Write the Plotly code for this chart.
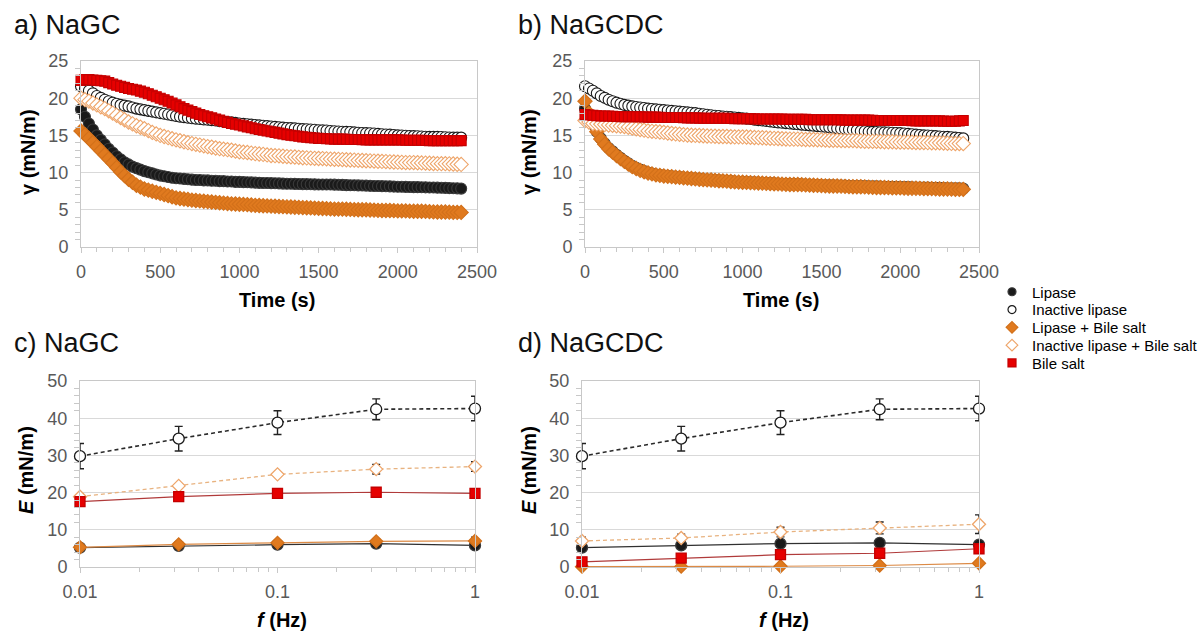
import plotly.graph_objects as go

# ---------------- data ----------------
TIME = list(range(0, 2401, 25))  # s

# Panel a) NaGC – surface tension (mN/m), one reading every 25 s
a_lipase = [18.5, 17.5, 16.6, 15.8, 15.0, 14.4, 13.8, 13.2, 12.7, 12.2, 11.8, 11.4, 11.1, 10.8, 10.6, 10.4,
            10.2, 10.05, 9.9, 9.75, 9.6, 9.5, 9.4, 9.3, 9.25, 9.2, 9.15, 9.1, 9.05, 9.0, 9.0, 8.95, 8.95,
            8.9, 8.9, 8.85, 8.85, 8.8, 8.8, 8.75, 8.75,
            8.72, 8.7, 8.68, 8.65, 8.62, 8.6, 8.6, 8.58, 8.56, 8.55, 8.52, 8.5, 8.5, 8.48, 8.46, 8.45, 8.45,
            8.44, 8.42, 8.4, 8.4, 8.4, 8.4, 8.38, 8.36, 8.35, 8.32, 8.3, 8.3, 8.28, 8.26, 8.25, 8.22, 8.2,
            8.2, 8.18, 8.16, 8.15, 8.12, 8.1, 8.1, 8.08, 8.06, 8.05, 8.05, 8.04, 8.02, 8.0, 8.0, 7.98, 7.96,
            7.95, 7.92, 7.9, 7.88, 7.85]
a_inactive = [21.6, 21.3, 21.0, 20.65, 20.3, 20.05, 19.8, 19.6, 19.4, 19.25, 19.1, 19.0, 18.9, 18.75, 18.6,
              18.5, 18.4, 18.3, 18.2, 18.1, 18.0, 17.9, 17.8, 17.7, 17.6, 17.52, 17.45, 17.38, 17.3, 17.25,
              17.2, 17.15, 17.1, 17.05, 17.0, 16.92, 16.85, 16.8, 16.75, 16.68, 16.6,
              16.55, 16.5, 16.45, 16.4, 16.35, 16.3, 16.25, 16.2, 16.15, 16.1, 16.05, 16.0, 15.98, 15.95,
              15.9, 15.85, 15.82, 15.8, 15.75, 15.7, 15.68, 15.65, 15.6, 15.55, 15.52, 15.5, 15.48, 15.45,
              15.4, 15.35, 15.32, 15.3, 15.28, 15.25, 15.2, 15.15, 15.12, 15.1, 15.05, 15.0, 14.98, 14.95,
              14.92, 14.9, 14.88, 14.85, 14.82, 14.8, 14.8, 14.8, 14.78, 14.75, 14.72, 14.7, 14.7, 14.7]
a_lipase_bs = [15.6, 15.1, 14.6, 14.05, 13.5, 12.95, 12.4, 11.85, 11.3, 10.7, 10.1, 9.6, 9.1, 8.7, 8.3,
               8.05, 7.8, 7.65, 7.5, 7.35, 7.2, 7.05, 6.9, 6.75, 6.6, 6.52, 6.45, 6.38, 6.3, 6.25, 6.2,
               6.15, 6.1, 6.05, 6.0, 5.95, 5.9, 5.85, 5.8, 5.78, 5.75,
               5.72, 5.7, 5.65, 5.6, 5.58, 5.55, 5.52, 5.5, 5.48, 5.45, 5.42, 5.4, 5.38, 5.35, 5.32, 5.3,
               5.28, 5.25, 5.22, 5.2, 5.18, 5.15, 5.12, 5.1, 5.1, 5.1, 5.08, 5.05, 5.02, 5.0, 5.0, 5.0,
               4.98, 4.95, 4.92, 4.9, 4.9, 4.9, 4.88, 4.85, 4.85, 4.85, 4.82, 4.8, 4.8, 4.8, 4.78, 4.75,
               4.72, 4.7, 4.7, 4.7, 4.68, 4.65, 4.65, 4.65]
a_inactive_bs = [20.0, 19.8, 19.6, 19.35, 19.1, 18.85, 18.6, 18.3, 18.0, 17.7, 17.4, 17.1, 16.8, 16.55,
                 16.3, 16.1, 15.9, 15.65, 15.4, 15.2, 15.0, 14.85, 14.7, 14.55, 14.4, 14.28, 14.15, 14.02,
                 13.9, 13.8, 13.7, 13.6, 13.5, 13.4, 13.3, 13.22, 13.15, 13.08, 13.0, 12.9, 12.8,
                 12.75, 12.7, 12.62, 12.55, 12.5, 12.45, 12.38, 12.3, 12.28, 12.25, 12.2, 12.15, 12.12,
                 12.1, 12.05, 12.0, 11.98, 11.95, 11.92, 11.9, 11.88, 11.85, 11.82, 11.8, 11.78, 11.75,
                 11.72, 11.7, 11.68, 11.65, 11.62, 11.6, 11.58, 11.55, 11.52, 11.5, 11.48, 11.45, 11.42,
                 11.4, 11.38, 11.35, 11.35, 11.35, 11.32, 11.3, 11.28, 11.25, 11.22, 11.2, 11.2, 11.2,
                 11.18, 11.15, 11.12, 11.1]
a_bile = [22.4, 22.5, 22.5, 22.45, 22.4, 22.35, 22.3, 22.1, 21.9, 21.75, 21.6, 21.45, 21.3, 21.2, 21.1,
          20.95, 20.8, 20.6, 20.4, 20.2, 20.0, 19.8, 19.6, 19.35, 19.1, 18.85, 18.6, 18.4, 18.2, 18.0,
          17.8, 17.65, 17.5, 17.35, 17.2, 17.05, 16.9, 16.75, 16.6, 16.5, 16.4,
          16.28, 16.15, 16.02, 15.9, 15.8, 15.7, 15.6, 15.5, 15.4, 15.3, 15.2, 15.1, 15.02, 14.95, 14.88,
          14.8, 14.75, 14.7, 14.65, 14.6, 14.58, 14.55, 14.52, 14.5, 14.5, 14.5, 14.48, 14.45, 14.45,
          14.45, 14.42, 14.4, 14.4, 14.4, 14.4, 14.4, 14.4, 14.4, 14.4, 14.4, 14.38, 14.35, 14.35, 14.35,
          14.35, 14.35, 14.32, 14.3, 14.3, 14.3, 14.3, 14.3, 14.3, 14.3, 14.3, 14.3]

# Panel b) NaGCDC – surface tension (mN/m), one reading every 25 s
b_lipase = [18.6, 17.5, 16.5, 15.5, 14.6, 13.9, 13.3, 12.85, 12.4, 12.0, 11.6, 11.25, 10.9, 10.65, 10.4,
            10.2, 10.0, 9.88, 9.75, 9.68, 9.6, 9.55, 9.5, 9.45, 9.4, 9.35, 9.3, 9.25, 9.2, 9.15, 9.1, 9.08,
            9.05, 9.0, 8.95, 8.92, 8.9, 8.85, 8.8, 8.78, 8.75,
            8.72, 8.7, 8.68, 8.65, 8.62, 8.6, 8.58, 8.55, 8.52, 8.5, 8.5, 8.5, 8.48, 8.45, 8.42, 8.4, 8.38,
            8.35, 8.32, 8.3, 8.3, 8.3, 8.28, 8.25, 8.25, 8.25, 8.22, 8.2, 8.2, 8.2, 8.18, 8.15, 8.15, 8.15,
            8.12, 8.1, 8.1, 8.1, 8.08, 8.05, 8.05, 8.05, 8.02, 8.0, 8.0, 8.0, 7.98, 7.95, 7.95, 7.95, 7.92,
            7.9, 7.9, 7.9, 7.88, 7.85]
b_inactive = [21.6, 21.3, 21.0, 20.65, 20.3, 20.05, 19.8, 19.6, 19.4, 19.25, 19.1, 19.0, 18.9, 18.82,
              18.75, 18.68, 18.6, 18.55, 18.5, 18.45, 18.4, 18.35, 18.3, 18.25, 18.2, 18.15, 18.1, 18.05,
              18.0, 17.92, 17.85, 17.78, 17.7, 17.65, 17.6, 17.55, 17.5, 17.45, 17.4, 17.35, 17.3,
              17.25, 17.2, 17.12, 17.05, 17.0, 16.95, 16.88, 16.8, 16.75, 16.7, 16.65, 16.6, 16.55, 16.5,
              16.45, 16.4, 16.35, 16.3, 16.25, 16.2, 16.15, 16.1, 16.02, 15.95, 15.9, 15.85, 15.8, 15.75,
              15.68, 15.6, 15.55, 15.5, 15.48, 15.45, 15.42, 15.4, 15.38, 15.35, 15.32, 15.3, 15.25, 15.2,
              15.15, 15.1, 15.05, 15.0, 14.98, 14.95, 14.9, 14.85, 14.82, 14.8, 14.75, 14.7, 14.65, 14.6]
b_lipase_bs = [19.6, 18.0, 16.7, 15.5, 14.5, 13.8, 13.2, 12.75, 12.3, 11.9, 11.5, 11.15, 10.8, 10.55,
               10.3, 10.12, 9.95, 9.82, 9.7, 9.62, 9.55, 9.5, 9.45, 9.4, 9.35, 9.3, 9.25, 9.2, 9.15, 9.1,
               9.05, 9.02, 9.0, 8.95, 8.9, 8.88, 8.85, 8.8, 8.75, 8.72, 8.7,
               8.68, 8.65, 8.62, 8.6, 8.58, 8.55, 8.52, 8.5, 8.48, 8.45, 8.42, 8.4, 8.4, 8.4, 8.38, 8.35,
               8.32, 8.3, 8.28, 8.25, 8.22, 8.2, 8.2, 8.2, 8.18, 8.15, 8.12, 8.1, 8.1, 8.1, 8.08, 8.05,
               8.02, 8.0, 8.0, 8.0, 7.98, 7.95, 7.95, 7.95, 7.92, 7.9, 7.9, 7.9, 7.88, 7.85, 7.85, 7.85,
               7.82, 7.8, 7.8, 7.8, 7.78, 7.75, 7.75, 7.75]
b_inactive_bs = [17.0, 16.8, 16.6, 16.55, 16.5, 16.45, 16.4, 16.35, 16.3, 16.25, 16.2, 16.1, 16.0, 15.9,
                 15.8, 15.7, 15.6, 15.55, 15.5, 15.45, 15.4, 15.32, 15.25, 15.2, 15.15, 15.1, 15.05, 15.02,
                 15.0, 14.98, 14.95, 14.92, 14.9, 14.88, 14.85, 14.85, 14.85, 14.82, 14.8, 14.8, 14.8,
                 14.78, 14.75, 14.72, 14.7, 14.68, 14.65, 14.62, 14.6, 14.58, 14.55, 14.52, 14.5, 14.5,
                 14.5, 14.48, 14.45, 14.45, 14.45, 14.42, 14.4, 14.38, 14.35, 14.35, 14.35, 14.32, 14.3,
                 14.3, 14.3, 14.28, 14.25, 14.22, 14.2, 14.2, 14.2, 14.18, 14.15, 14.15, 14.15, 14.12,
                 14.1, 14.1, 14.1, 14.08, 14.05, 14.05, 14.05, 14.02, 14.0, 14.0, 14.0, 13.98, 13.95,
                 13.92, 13.9, 13.9, 13.9]
b_bile = [17.8, 17.75, 17.7, 17.65, 17.6, 17.6, 17.6, 17.58, 17.55, 17.52, 17.5, 17.5, 17.5, 17.5, 17.5,
          17.48, 17.45, 17.45, 17.45, 17.42, 17.4, 17.4, 17.4, 17.4, 17.4, 17.38, 17.35, 17.35, 17.35,
          17.32, 17.3, 17.3, 17.3, 17.3, 17.3, 17.3, 17.3, 17.28, 17.25, 17.25, 17.25,
          17.25, 17.25, 17.22, 17.2, 17.2, 17.2, 17.2, 17.2, 17.2, 17.2, 17.18, 17.15, 17.15, 17.15,
          17.15, 17.15, 17.12, 17.1, 17.1, 17.1, 17.1, 17.1, 17.1, 17.1, 17.08, 17.05, 17.05, 17.05,
          17.05, 17.05, 17.05, 17.05, 17.02, 17.0, 17.0, 17.0, 17.0, 17.0, 17.0, 17.0, 17.0, 17.0, 16.98,
          16.95, 16.95, 16.95, 16.95, 16.95, 16.95, 16.95, 16.92, 16.9, 16.9, 16.9, 16.95, 17.0]

# Frequency sweeps – dilatational modulus E (mN/m)
FREQ = [0.01, 0.0316, 0.1, 0.316, 1.0]  # Hz

c_lipase = [5.2, 5.7, 6.0, 6.3, 5.8]
c_lipase_err = [0.4, 0.4, 0.5, 0.6, 0.8]
c_inactive = [29.8, 34.5, 38.8, 42.4, 42.6]
c_inactive_err = [3.4, 3.3, 3.2, 2.8, 3.3]
c_lipase_bs = [5.3, 6.1, 6.5, 6.9, 7.0]
c_lipase_bs_err = [0.4, 0.4, 0.5, 0.7, 1.0]
c_inactive_bs = [18.9, 21.8, 24.9, 26.3, 27.0]
c_inactive_bs_err = [0.8, 0.5, 0.5, 1.3, 1.3]
c_bile = [17.6, 18.9, 19.8, 20.1, 19.8]
c_bile_err = [0.3, 0.3, 0.3, 0.3, 0.3]

d_lipase = [5.2, 5.8, 6.3, 6.5, 6.0]
d_lipase_err = [0.4, 0.4, 0.5, 0.6, 0.6]
d_inactive = [29.8, 34.5, 38.8, 42.4, 42.6]
d_inactive_err = [3.4, 3.3, 3.2, 2.8, 3.3]
d_lipase_bs = [0.1, 0.1, 0.2, 0.4, 1.0]
d_lipase_bs_err = [0.1, 0.1, 0.1, 0.2, 0.3]
d_inactive_bs = [7.0, 7.8, 9.4, 10.5, 11.5]
d_inactive_bs_err = [1.0, 1.0, 1.3, 1.6, 2.5]
d_bile = [1.4, 2.4, 3.3, 3.7, 4.9]
d_bile_err = [0.3, 0.3, 0.3, 0.4, 0.5]

NAMES = ["Lipase", "Inactive lipase", "Lipase + Bile salt", "Inactive lipase + Bile salt", "Bile salt"]
PANEL_TITLES = ["a) NaGC", "b) NaGCDC", "c) NaGC", "d) NaGCDC"]

# ---------------- styles ----------------
FONT = "Liberation Sans, Arial, sans-serif"
STY = {
    "Lipase": dict(symbol="circle", fill="#1a1a1a", edge="#3a3a3a", line="#303030", dash="solid", lw=1.2),
    "Inactive lipase": dict(symbol="circle", fill="#ffffff", edge="#1a1a1a", line="#2a2a2a", dash="4px,3px", lw=1.6),
    "Lipase + Bile salt": dict(symbol="diamond", fill="#e07a1f", edge="#d2701a", line="#dc8a45", dash="solid", lw=1.2),
    "Inactive lipase + Bile salt": dict(symbol="diamond", fill="#ffffff", edge="#eea56a", line="#e8b27f", dash="4px,3px", lw=1.3),
    "Bile salt": dict(symbol="square", fill="#e60000", edge="#c40000", line="#b03a3a", dash="solid", lw=1.2),
}
TS_SIZE = {"circle": 11, "diamond": 11, "square": 10}
FS_SIZE = {"circle": 11, "diamond": 10, "square": 10}
LEG_SIZE = {"circle": 8, "diamond": 9, "square": 8}

fig = go.Figure()

ts_panels = [
    ("x", "y", [a_lipase, a_inactive, a_lipase_bs, a_inactive_bs, a_bile]),
    ("x2", "y2", [b_lipase, b_inactive, b_lipase_bs, b_inactive_bs, b_bile]),
]
for xa, ya, series in ts_panels:
    for name, vals in zip(NAMES, series):
        s = STY[name]
        fig.add_trace(go.Scatter(
            x=TIME, y=vals, mode="markers", name=name, legendgroup=name, showlegend=False,
            xaxis=xa, yaxis=ya, cliponaxis=False,
            marker=dict(symbol=s["symbol"], size=TS_SIZE[s["symbol"]], color=s["fill"],
                        line=dict(color=s["edge"], width=1.1)),
        ))

fs_panels = [
    ("x3", "y3", [(c_lipase, c_lipase_err), (c_inactive, c_inactive_err), (c_lipase_bs, c_lipase_bs_err),
                  (c_inactive_bs, c_inactive_bs_err), (c_bile, c_bile_err)]),
    ("x4", "y4", [(d_lipase, d_lipase_err), (d_inactive, d_inactive_err), (d_lipase_bs, d_lipase_bs_err),
                  (d_inactive_bs, d_inactive_bs_err), (d_bile, d_bile_err)]),
]
for xa, ya, series in fs_panels:
    for name, (vals, err) in zip(NAMES, series):
        s = STY[name]
        fig.add_trace(go.Scatter(
            x=FREQ, y=vals, mode="lines+markers", name=name, legendgroup=name, showlegend=False,
            xaxis=xa, yaxis=ya, cliponaxis=False,
            line=dict(color=s["line"], width=s["lw"], dash=s["dash"]),
            marker=dict(symbol=s["symbol"], size=FS_SIZE[s["symbol"]], color=s["fill"],
                        line=dict(color=s["edge"], width=1.3)),
            error_y=dict(type="data", array=err, color="#222222", thickness=1.4, width=4),
        ))

# legend entries: one small legend per series so the rows sit as tightly as in the original
LEG_IDS = ["legend", "legend2", "legend3", "legend4", "legend5"]
for name, lid in zip(NAMES, LEG_IDS):
    s = STY[name]
    fig.add_trace(go.Scatter(
        x=[None], y=[None], mode="markers", name=name, legendgroup=name, showlegend=True, legend=lid,
        marker=dict(symbol=s["symbol"], size=LEG_SIZE[s["symbol"]], color=s["fill"],
                    line=dict(color=s["edge"], width=1.2)),
    ))

# ---------------- layout ----------------
W, H = 1202, 634
def px_x(p): return p / W
def px_y(p): return 1 - p / H

tickfont = dict(family=FONT, size=18, color="#595959")
common = dict(showline=True, linecolor="#c8c8c8", linewidth=1, mirror=True, zeroline=False,
              tickfont=tickfont, ticks="outside", ticklen=5, tickcolor="#c8c8c8")

def xlin(dom, anchor):
    return dict(common, domain=dom, anchor=anchor, range=[0, 2500], dtick=500, showgrid=False,
                minor=dict(dtick=100, ticks="outside", ticklen=4, tickcolor="#c8c8c8", showgrid=False),
                ticklabelstandoff=3)

def xlog(dom, anchor):
    return dict(common, domain=dom, anchor=anchor, type="log", range=[-2, 0], tickvals=[0.01, 0.1, 1],
                ticktext=["0.01", "0.1", "1"], showgrid=False,
                minor=dict(dtick="D1", ticks="outside", ticklen=4, tickcolor="#c8c8c8", showgrid=False),
                ticklabelstandoff=3)

def yax(dom, rmax, dt, mdt, anchor):
    return dict(common, domain=dom, range=[0, rmax], dtick=dt, showgrid=True, gridcolor="#d9d9d9",
                gridwidth=1, anchor=anchor, ticks="",
                minor=dict(dtick=mdt, ticks="outside", ticklen=5, tickcolor="#c8c8c8", showgrid=False),
                ticklabelstandoff=8)

top_dom = [px_y(247), px_y(61)]
bot_dom = [px_y(567), px_y(381)]

layout = dict(
    width=W, height=H, margin=dict(l=0, r=0, t=0, b=0, autoexpand=False),
    paper_bgcolor="white", plot_bgcolor="white",
    font=dict(family=FONT, color="#000000"),
    xaxis=xlin([px_x(81), px_x(477)], "y"),
    yaxis=yax(top_dom, 25, 5, 1, "x"),
    xaxis2=xlin([px_x(585), px_x(979)], "y2"),
    yaxis2=yax(top_dom, 25, 5, 1, "x2"),
    xaxis3=xlog([px_x(80), px_x(475)], "y3"),
    yaxis3=yax(bot_dom, 50, 10, 2, "x3"),
    xaxis4=xlog([px_x(582), px_x(979)], "y4"),
    yaxis4=yax(bot_dom, 50, 10, 2, "x4"),
    showlegend=True,
)
for i, lid in enumerate(LEG_IDS):
    layout[lid] = dict(x=px_x(992), y=px_y(292 + 17.8 * i), xanchor="left", yanchor="middle",
                       font=dict(family=FONT, size=15, color="#000000"), itemsizing="trace",
                       bgcolor="rgba(0,0,0,0)", itemwidth=30, borderwidth=0)
fig.update_layout(**layout)

ann = []
for txt, x, y in zip(PANEL_TITLES, [12, 516, 12, 516], [25, 25, 343, 343]):
    ann.append(dict(text=txt, x=px_x(x), y=px_y(y), xref="paper", yref="paper", xanchor="left",
                    yanchor="middle", showarrow=False, font=dict(family=FONT, size=27, color="#111111")))
for txt, x, y in [("<b>Time (s)</b>", 277, 300), ("<b>Time (s)</b>", 781, 300),
                  ("<b><i>f</i> (Hz)</b>", 282, 620), ("<b><i>f</i> (Hz)</b>", 784, 620)]:
    ann.append(dict(text=txt, x=px_x(x), y=px_y(y), xref="paper", yref="paper", xanchor="center",
                    yanchor="middle", showarrow=False, font=dict(family=FONT, size=20, color="#000000")))
for txt, x, y in [("<b>γ (mN/m)</b>", 28, 152), ("<b>γ (mN/m)</b>", 529, 152),
                  ("<b><i>E</i> (mN/m)</b>", 26, 470), ("<b><i>E</i> (mN/m)</b>", 529, 470)]:
    ann.append(dict(text=txt, x=px_x(x), y=px_y(y), xref="paper", yref="paper", xanchor="center",
                    yanchor="middle", textangle=-90, showarrow=False,
                    font=dict(family=FONT, size=20, color="#000000")))
fig.update_layout(annotations=ann)

# the page's default 8px body margin would shift the figure; remove it so the chart sits at (0, 0)
fig.write_html("out.html", config={"displayModeBar": False},
               post_script="document.body.style.margin='0px';document.body.style.overflow='hidden';")
